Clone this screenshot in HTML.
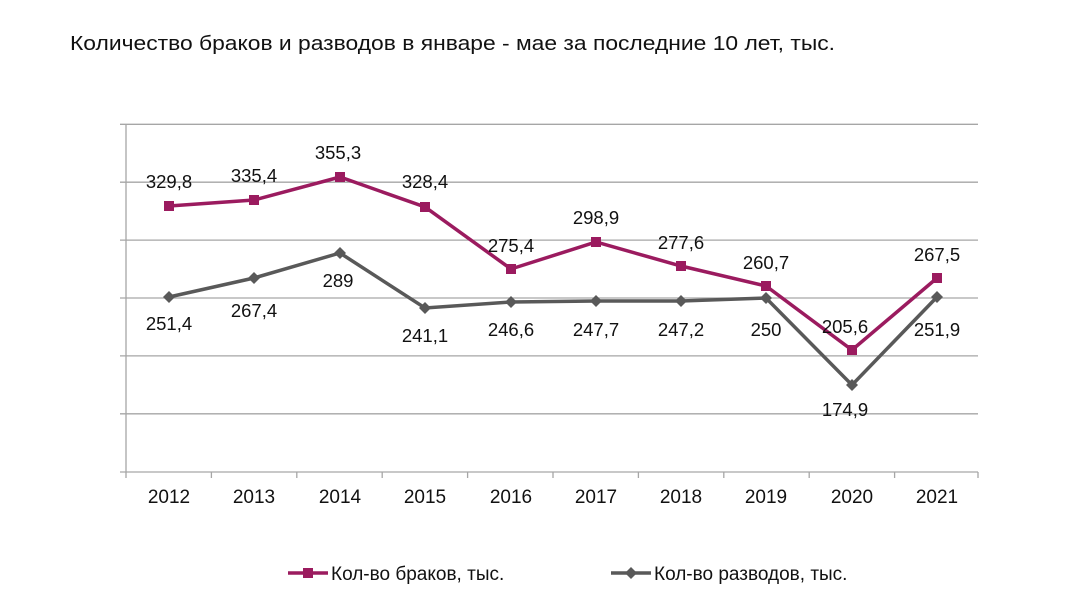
<!DOCTYPE html>
<html><head><meta charset="utf-8"><style>
body{margin:0;background:#fff;width:1080px;height:608px;overflow:hidden}
svg{display:block}
</style></head><body>
<svg width="1080" height="608" xmlns="http://www.w3.org/2000/svg" font-family="Liberation Sans, DejaVu Sans, sans-serif">
<text x="70" y="50" font-size="20" fill="#111" textLength="765" lengthAdjust="spacingAndGlyphs">Количество браков и разводов в январе - мае за последние 10 лет, тыс.</text>
<g stroke="#a6a6a6" stroke-width="1.3">
<line x1="120" y1="124.3" x2="978" y2="124.3"/>
<line x1="120" y1="182.2" x2="978" y2="182.2"/>
<line x1="120" y1="240.1" x2="978" y2="240.1"/>
<line x1="120" y1="298" x2="978" y2="298"/>
<line x1="120" y1="355.9" x2="978" y2="355.9"/>
<line x1="120" y1="413.8" x2="978" y2="413.8"/>
<line x1="120" y1="472" x2="978" y2="472"/>
<line x1="126" y1="124" x2="126" y2="472"/>
<line x1="126" y1="472" x2="126" y2="478"/><line x1="211.4" y1="472" x2="211.4" y2="478"/><line x1="296.8" y1="472" x2="296.8" y2="478"/><line x1="382.2" y1="472" x2="382.2" y2="478"/><line x1="467.6" y1="472" x2="467.6" y2="478"/><line x1="553" y1="472" x2="553" y2="478"/><line x1="638.4" y1="472" x2="638.4" y2="478"/><line x1="723.8" y1="472" x2="723.8" y2="478"/><line x1="809.2" y1="472" x2="809.2" y2="478"/><line x1="894.6" y1="472" x2="894.6" y2="478"/><line x1="978" y1="472" x2="978" y2="478"/>
</g>
<g font-size="19" fill="#111" text-anchor="middle">
<text x="169" y="503">2012</text><text x="254" y="503">2013</text><text x="340" y="503">2014</text><text x="425" y="503">2015</text><text x="511" y="503">2016</text><text x="596" y="503">2017</text><text x="681" y="503">2018</text><text x="766" y="503">2019</text><text x="852" y="503">2020</text><text x="937" y="503">2021</text>
</g>
<polyline fill="none" stroke="#9b1b5f" stroke-width="3.5" points="169,206 254,200 340,177 425,207 511,269 596,242 681,266 766,286 852,350 937,278"/>
<g fill="#9b1b5f">
<rect x="164" y="201" width="10" height="10"/><rect x="249" y="195" width="10" height="10"/><rect x="335" y="172" width="10" height="10"/><rect x="420" y="202" width="10" height="10"/><rect x="506" y="264" width="10" height="10"/><rect x="591" y="237" width="10" height="10"/><rect x="676" y="261" width="10" height="10"/><rect x="761" y="281" width="10" height="10"/><rect x="847" y="345" width="10" height="10"/><rect x="932" y="273" width="10" height="10"/>
</g>
<polyline fill="none" stroke="#595959" stroke-width="3.5" points="169,297 254,278 340,253 425,308 511,302 596,301 681,301 766,298 852,385 937,297"/>
<g fill="#595959">
<path d="M169 291l6 6-6 6-6-6z"/><path d="M254 272l6 6-6 6-6-6z"/><path d="M340 247l6 6-6 6-6-6z"/><path d="M425 302l6 6-6 6-6-6z"/><path d="M511 296l6 6-6 6-6-6z"/><path d="M596 295l6 6-6 6-6-6z"/><path d="M681 295l6 6-6 6-6-6z"/><path d="M766 292l6 6-6 6-6-6z"/><path d="M852 379l6 6-6 6-6-6z"/><path d="M937 291l6 6-6 6-6-6z"/>
</g>
<g font-size="18.5" fill="#111" text-anchor="middle">
<text x="169" y="188">329,8</text><text x="254" y="182">335,4</text><text x="338" y="159">355,3</text><text x="425" y="188">328,4</text><text x="511" y="252">275,4</text><text x="596" y="224">298,9</text><text x="681" y="249">277,6</text><text x="766" y="269">260,7</text><text x="845" y="333">205,6</text><text x="937" y="261">267,5</text>
<text x="169" y="330">251,4</text><text x="254" y="317">267,4</text><text x="338" y="287">289</text><text x="425" y="342">241,1</text><text x="511" y="336">246,6</text><text x="596" y="336">247,7</text><text x="681" y="336">247,2</text><text x="766" y="336">250</text><text x="845" y="416">174,9</text><text x="937" y="336">251,9</text>
</g>
<line x1="288" y1="573" x2="328" y2="573" stroke="#9b1b5f" stroke-width="3.5"/>
<rect x="303" y="568" width="10" height="10" fill="#9b1b5f"/>
<text x="331" y="580" font-size="19" fill="#111">Кол-во браков, тыс.</text>
<line x1="611" y1="573" x2="651" y2="573" stroke="#595959" stroke-width="3.5"/>
<path d="M631 567l6 6-6 6-6-6z" fill="#595959"/>
<text x="654" y="580" font-size="19" fill="#111">Кол-во разводов, тыс.</text>
</svg>
</body></html>
